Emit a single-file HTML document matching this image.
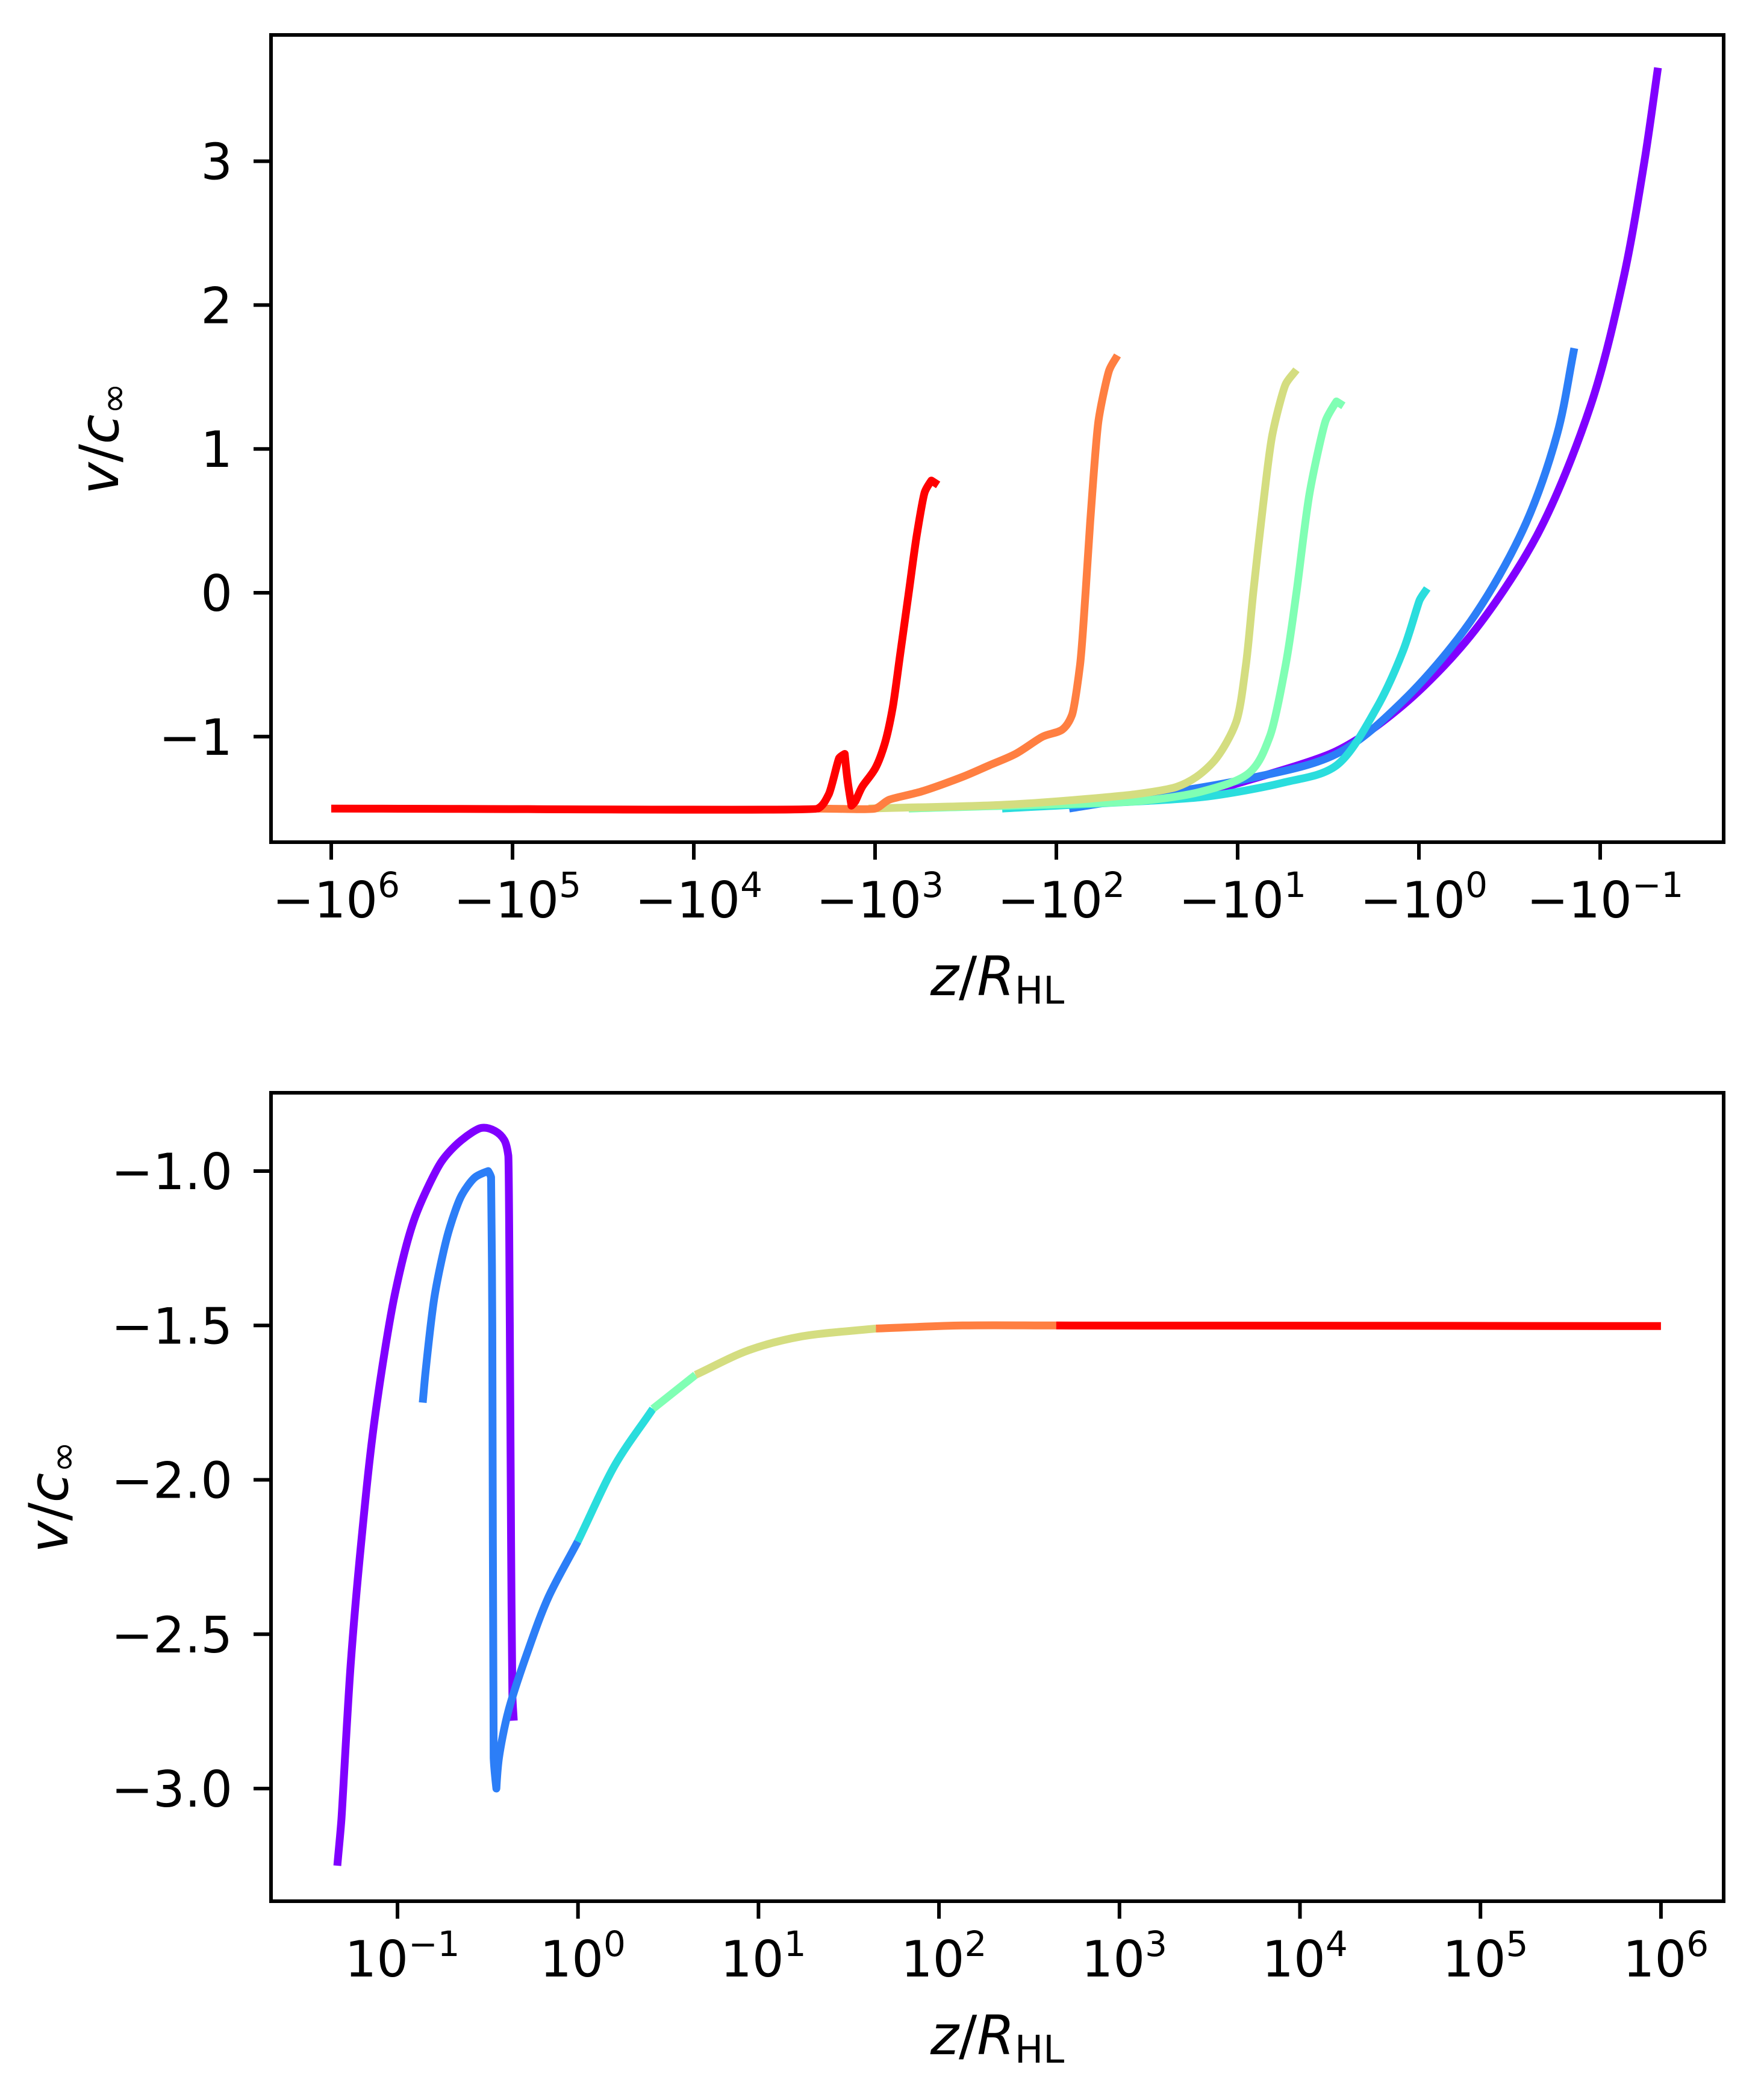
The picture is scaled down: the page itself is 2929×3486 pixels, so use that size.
<!DOCTYPE html>
<html><head><meta charset="utf-8"><style>
html,body{margin:0;padding:0;background:#fff;}
svg{display:block;font-family:"DejaVu Sans","Liberation Sans",sans-serif;}
</style></head><body>
<svg id="fig" width="2929" height="3486" viewBox="0 0 2929 3486" xmlns="http://www.w3.org/2000/svg">
<rect width="2929" height="3486" fill="#fff"/>
<g id="top"></g>
<g id="bot"></g>
</svg>
<script>
// ---- top panel data (z negative, v/c_inf) ----
const topNames = ["red","orange","yellow","green","cyan","blue","purple"];
const topColors = ["#ff0000","#ff7f41","#d4dd80","#80ffb4","#2adddd","#2c7ef7","#8000ff"];
const zRed = [-1e6,-2070,-1800,-1580,-1470,-1420,-1350,-1285,-1180,-997,-885,-800,-722,-652,-589,-532,-489,-449];
const vRed = [-1.5,-1.5,-1.4,-1.15,-1.12,-1.3,-1.48,-1.45,-1.35,-1.22,-1.05,-0.8,-0.4,0,0.4,0.7,0.78,0.75];
const zOrange = [-2070,-997,-841,-550,-330,-235,-168,-119,-92.5,-82,-74,-69,-65,-58.5,-51,-46];
const vOrange = [-1.5,-1.5,-1.44,-1.38,-1.28,-1.2,-1.12,-1.0,-0.95,-0.85,-0.5,0,0.5,1.2,1.55,1.65];
const zYellow = [-1085,-168,-36.3,-21.8,-16.9,-13.1,-10.2,-9.0,-8.2,-7.25,-6.43,-5.43,-4.74];
const vYellow = [-1.5,-1.47,-1.4,-1.35,-1.28,-1.15,-0.9,-0.5,0,0.6,1.1,1.45,1.55];
const zGreen = [-652,-36.3,-15.6,-8.6,-6.65,-5.43,-4.74,-4.0,-3.26,-2.85,-2.61];
const vGreen = [-1.5,-1.45,-1.38,-1.25,-1.0,-0.5,0,0.7,1.2,1.33,1.3];
const zCyan = [-199,-15.6,-5.61,-2.85,-1.71,-1.22,-0.99,-0.90];
const vCyan = [-1.5,-1.42,-1.32,-1.2,-0.8,-0.4,-0.05,0.03];
const zBlue = [-85,-9.35,-2.85,-1.22,-0.52,-0.264,-0.173,-0.139];
const vBlue = [-1.5,-1.3,-1.12,-0.75,-0.2,0.45,1.1,1.7];
const zPurple = [-15.6,-2.85,-1.22,-0.52,-0.223,-0.113,-0.074,-0.057,-0.048];
const vPurple = [-1.4,-1.1,-0.78,-0.3,0.4,1.3,2.2,3.0,3.65];
const topYTicks = [-1,0,1,2,3];
const topXTickExp = [6,5,4,3,2,1,0,-1];
// ---- bottom panel data ----
const zbPurple = [0.0464,0.0489,0.055,0.063,0.0749,0.0966,0.125,0.175,0.226,0.292,0.347,0.391,0.411,0.419,0.426,0.433,0.441];
const vbPurple = [-3.25,-3.1,-2.6,-2.2,-1.8,-1.4,-1.15,-0.97,-0.9,-0.86,-0.87,-0.9,-0.95,-1.5,-2.2,-2.7,-2.78];
const zbBlue = [0.138,0.143,0.161,0.191,0.226,0.269,0.318,0.330,0.335,0.341,0.353,0.365,0.411,0.531,0.686,0.997];
const vbBlue = [-1.75,-1.65,-1.4,-1.2,-1.08,-1.02,-1.0,-1.02,-1.5,-2.9,-3.0,-2.9,-2.75,-2.55,-2.38,-2.2];
const zbCyan = [0.997,1.61,2.6];
const vbCyan = [-2.2,-1.95,-1.77];
const zbGreen = [2.6,4.48];
const vbGreen = [-1.77,-1.66];
const zbYellow = [4.48,8.85,17.5,44.7];
const vbYellow = [-1.66,-1.58,-1.535,-1.51];
const zbOrange = [44.7,135,446];
const vbOrange = [-1.51,-1.5,-1.5];
const zbRed = [446,1e6];
const vbRed = [-1.5,-1.502];
const botYTicks = [-3.0,-2.5,-2.0,-1.5,-1.0];
const botXTickExp = [-1,0,1,2,3,4,5,6];

const NS="http://www.w3.org/2000/svg";
function mk(parent,tag,attrs){const e=document.createElementNS(NS,tag);for(const k in attrs)e.setAttribute(k,attrs[k]);parent.appendChild(e);return e;}
const L=450,R=2862;
const tT=58,tB=1398;
const txS=v=>550+301*(6-Math.log10(-v));
const tyS=v=>984-238.8*v;
const bT=1814,bB=3156;
const bxS=v=>660+299.7*(Math.log10(v)+1);
const byS=v=>1944-512.5*(v+1);

function axes(g,top,bot,yTicks,yS,xExp,xPos,neg,yFmt,ylx){
  yTicks.forEach(t=>{
    const y=yS(t);
    const tk=mk(g,'line',{x1:L-29,x2:L,y1:y,y2:y,stroke:'#000','stroke-width':6});
    
    
    const tx=mk(g,'text',{x:386,y:y+30,'text-anchor':'end','font-size':83});
    tx.textContent=yFmt(t);
    
    
  });
  xExp.forEach(k=>{
    const x=xPos(k);
    const tk=mk(g,'line',{x1:x,x2:x,y1:bot,y2:bot+29,stroke:'#000','stroke-width':6});
    
    
    const tx=mk(g,'text',{x:x+8,y:bot+125,'text-anchor':'middle','font-size':83});
    
    
    const a=document.createElementNS(NS,'tspan');a.textContent=(neg?'−':'')+'10';tx.appendChild(a);
    const b=document.createElementNS(NS,'tspan');b.setAttribute('font-size','58');b.setAttribute('dy','-34');b.textContent=(k<0?'−':'')+Math.abs(k);tx.appendChild(b);
  });
  const xlab=mk(g,'text',{x:1656,y:bot+254,'text-anchor':'middle','font-size':90});
  
  
  xlab.innerHTML='<tspan font-style="italic">z</tspan>/<tspan font-style="italic">R</tspan><tspan font-size="63" dy="14">HL</tspan>';
  const cy=(top+bot)/2;
  const ylab=mk(g,'text',{x:ylx,y:cy,'text-anchor':'middle','font-size':90,transform:`rotate(-90 ${ylx} ${cy})`});
  
  
  ylab.innerHTML='<tspan font-style="italic">v</tspan>/<tspan font-style="italic">c</tspan><tspan font-size="63" dy="14">∞</tspan>';
  const fr=mk(g,'rect',{x:L,y:top,width:R-L,height:bot-top,fill:'none',stroke:'#000','stroke-width':6});
  
  
}
function segLen(P,i){ // length of segment i (P[i] -> P[i+1]); Infinity if out of range
  if(i<0||i>=P.length-1) return Infinity;
  return Math.hypot(P[i+1][0]-P[i][0],P[i+1][1]-P[i][1]);
}
function tangent(P,i){ // returns unit tangent or null for corner
  const a=P[Math.max(0,i-1)],p=P[i],b=P[Math.min(P.length-1,i+1)];
  const d1=[p[0]-a[0],p[1]-a[1]],d2=[b[0]-p[0],b[1]-p[1]];
  const n1=Math.hypot(d1[0],d1[1]),n2=Math.hypot(d2[0],d2[1]);
  if(n1>0&&n2>0){
    const cos=(d1[0]*d2[0]+d1[1]*d2[1])/(n1*n2);
    if(cos<0.5) return null;
  }
  const u1=n1>0?[d1[0]/n1,d1[1]/n1]:[0,0],u2=n2>0?[d2[0]/n2,d2[1]/n2]:[0,0];
  const t=[u1[0]+u2[0],u1[1]+u2[1]],n=Math.hypot(t[0],t[1])||1;
  return [t[0]/n,t[1]/n];
}
function series(g,zs,vs,xS,yS,color,name,clipId){
  const P=zs.map((z,i)=>[xS(z),yS(vs[i])]);
  let d='M'+P[0][0].toFixed(1)+' '+P[0][1].toFixed(1);
  for(let i=0;i<P.length-1;i++){
    const p1=P[i],p2=P[i+1];
    const l=segLen(P,i);
    const h1=Math.min(l,segLen(P,i-1))/3, h2=Math.min(l,segLen(P,i+1))/3;
    const t1=tangent(P,i),t2=tangent(P,i+1);
    const c1=t1?[p1[0]+t1[0]*h1,p1[1]+t1[1]*h1]:p1;
    const c2=t2?[p2[0]-t2[0]*h2,p2[1]-t2[1]*h2]:p2;
    d+=' C'+c1[0].toFixed(1)+' '+c1[1].toFixed(1)+' '+c2[0].toFixed(1)+' '+c2[1].toFixed(1)+' '+p2[0].toFixed(1)+' '+p2[1].toFixed(1);
  }
  const p=mk(g,'path',{d:d,fill:'none',stroke:color,'stroke-width':13,'stroke-linejoin':'round','stroke-linecap':'butt','clip-path':`url(#${clipId})`});
  
  
}
const svg=document.getElementById('fig');
const defs=mk(svg,'defs',{});
const c1=mk(defs,'clipPath',{id:'clipT'});mk(c1,'rect',{x:L,y:tT,width:R-L,height:tB-tT});
const c2=mk(defs,'clipPath',{id:'clipB'});mk(c2,'rect',{x:L,y:bT,width:R-L,height:bB-bT});

const gT=document.getElementById('top');
const topZ=[zRed,zOrange,zYellow,zGreen,zCyan,zBlue,zPurple];
const topV=[vRed,vOrange,vYellow,vGreen,vCyan,vBlue,vPurple];
for(let i=6;i>=0;i--) series(gT,topZ[i],topV[i],txS,tyS,topColors[i],'top-series-'+topNames[i],'clipT');
axes(gT,tT,tB,topYTicks,tyS,topXTickExp,k=>550+301*(6-k),true,t=>(t<0?'−':'')+Math.abs(t),196);

const gB=document.getElementById('bot');
const botZ=[zbRed,zbOrange,zbYellow,zbGreen,zbCyan,zbBlue,zbPurple];
const botV=[vbRed,vbOrange,vbYellow,vbGreen,vbCyan,vbBlue,vbPurple];
for(let i=6;i>=0;i--) series(gB,botZ[i],botV[i],bxS,byS,topColors[i],'bottom-series-'+topNames[i],'clipB');
axes(gB,bT,bB,botYTicks,byS,botXTickExp,k=>660+299.7*(k+1),false,t=>'−'+Math.abs(t).toFixed(1),112);
</script>
</body></html>
